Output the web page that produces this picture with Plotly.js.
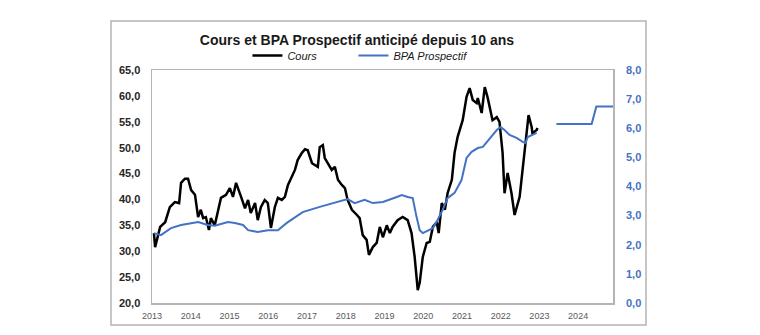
<!DOCTYPE html>
<html>
<head>
<meta charset="utf-8">
<script src="https://cdn.plot.ly/plotly-3.0.1.min.js"></script>
<style>html,body{margin:0;padding:0;background:#fff}#chart{width:760px;height:335px}</style>
</head>
<body>
<div id="chart"></div>
<script>
// Cours (left axis)
const coursX = [2013.05,2013.08,2013.21,2013.34,2013.46,2013.59,2013.70,2013.75,2013.85,2013.93,
2014.01,2014.11,2014.19,2014.26,2014.32,2014.39,2014.47,2014.52,2014.62,2014.73,2014.78,2014.91,
2015.01,2015.09,2015.17,2015.30,2015.40,2015.48,2015.55,2015.66,2015.73,2015.81,2015.91,2015.99,
2016.07,2016.17,2016.25,2016.35,2016.43,2016.51,2016.61,2016.69,2016.76,2016.87,2016.95,
2017.02,2017.13,2017.20,2017.28,2017.33,2017.41,2017.46,2017.54,2017.64,2017.72,2017.80,2017.90,2017.98,
2018.05,2018.16,2018.29,2018.36,2018.44,2018.54,2018.60,2018.70,2018.80,2018.88,2018.96,
2019.06,2019.14,2019.21,2019.34,2019.47,2019.60,2019.70,2019.78,2019.86,2019.91,2019.99,
2020.09,2020.17,2020.25,2020.35,2020.40,2020.48,2020.56,2020.63,2020.74,2020.81,2020.89,
2021.02,2021.12,2021.20,2021.28,2021.38,2021.41,2021.51,2021.59,2021.66,2021.79,2021.90,2021.97,
2022.05,2022.10,2022.18,2022.28,2022.36,2022.49,2022.57,2022.67,2022.72,2022.80,2022.82,2022.93,2022.95];
const coursY = [33.5,30.8,34.7,35.6,38.5,39.5,39.3,43.2,44.0,44.0,
41.8,40.9,36.6,38.0,36.4,36.6,34.1,36.4,35.0,38.5,40.3,40.9,
42.2,40.5,43.2,40.5,38.3,39.9,37.4,39.3,36.0,38.5,39.9,39.3,
34.5,38.5,40.3,39.9,40.5,42.8,44.3,45.7,47.6,49.0,49.7,
49.5,47.0,46.7,46.3,50.1,50.5,48.0,47.0,45.7,46.3,43.8,42.8,42.2,
39.9,38.0,37.0,36.4,33.1,32.2,29.3,30.8,31.6,34.7,32.7,
35.0,33.5,34.7,36.0,36.6,36.0,33.5,28.9,22.5,23.9,28.9,
31.6,31.8,34.7,35.6,33.5,39.3,38.0,41.2,43.8,49.0,52.1,
55.3,59.8,61.5,59.2,58.6,59.6,56.7,61.7,59.8,55.3,55.9,55.0,
49.0,41.2,45.1,41.2,37.0,40.5,45.7,52.1,56.3,54.0,52.8,53.4,53.8];

// BPA Prospectif (right axis), history
const bpaX = [2013.05,2013.23,2013.49,2013.75,2014.19,2014.44,2014.62,2014.96,2015.14,2015.35,2015.48,
2015.73,2015.99,2016.25,2016.48,2016.89,2017.33,2017.77,2018.05,2018.23,2018.49,2018.70,2018.96,
2019.32,2019.45,2019.60,2019.73,2019.83,2019.91,2019.99,2020.12,2020.25,2020.37,2020.50,2020.63,
2020.81,2020.99,2021.12,2021.25,2021.41,2021.54,2021.72,2021.90,2022.00,2022.10,2022.23,2022.41,
2022.57,2022.64,2022.70,2022.82,2022.93];
const bpaY = [2.40,2.33,2.57,2.68,2.78,2.68,2.65,2.78,2.75,2.68,2.50,
2.44,2.50,2.50,2.75,3.12,3.30,3.47,3.57,3.43,3.54,3.43,3.47,
3.64,3.71,3.64,3.60,2.95,2.50,2.40,2.50,2.57,2.85,3.19,3.60,
3.78,4.22,4.98,5.19,5.32,5.36,5.67,5.94,6.04,5.94,5.77,5.67,
5.53,5.49,5.70,5.77,5.84];

// BPA Prospectif, forecast
const bpaFcX = [2023.44,2024.35,2024.47,2024.90];
const bpaFcY = [6.15,6.15,6.75,6.75];

const years = [2013,2014,2015,2016,2017,2018,2019,2020,2021,2022,2023,2024];
const yearLabels = years.map(String);

const BLUE = '#4472C4';
const FONT = 'Liberation Sans, Arial, sans-serif';

const traces = [
  {x: coursX, y: coursY, type: 'scatter', mode: 'lines', name: 'Cours', legend: 'legend',
   line: {color: '#000000', width: 2.5}, yaxis: 'y'},
  {x: bpaX, y: bpaY, type: 'scatter', mode: 'lines', name: 'BPA Prospectif', legend: 'legend2',
   legendgroup: 'bpa', line: {color: BLUE, width: 2}, yaxis: 'y2'},
  {x: bpaFcX, y: bpaFcY, type: 'scatter', mode: 'lines', name: 'BPA Prospectif', legend: 'legend2',
   legendgroup: 'bpa', showlegend: false, line: {color: BLUE, width: 2}, yaxis: 'y2'}
];

const legendFont = {family: FONT, size: 11, color: '#1a1a1a', style: 'italic'};

const layout = {
  width: 760, height: 335,
  margin: {l: 152, r: 147, t: 70, b: 32},
  paper_bgcolor: '#ffffff', plot_bgcolor: '#ffffff',
  separators: ', ',
  font: {family: FONT},
  title: {text: 'Cours et BPA Prospectif anticipé depuis 10 ans',
          font: {family: FONT, size: 14, color: '#1a1a1a', weight: 'bold'},
          x: 357/760, xanchor: 'center', y: 1 - 40/335, yanchor: 'middle'},
  showlegend: true,
  legend: {orientation: 'h', x: 0.207, xanchor: 'left', y: 1.062, yanchor: 'middle',
           font: legendFont, itemwidth: 30, bgcolor: 'rgba(0,0,0,0)', borderwidth: 0},
  legend2: {orientation: 'h', x: 0.437, xanchor: 'left', y: 1.062, yanchor: 'middle',
           font: legendFont, itemwidth: 30, bgcolor: 'rgba(0,0,0,0)', borderwidth: 0},
  xaxis: {range: [2013, 2024.9], tickvals: years, ticktext: yearLabels,
          showgrid: false, zeroline: false, showline: true, mirror: true,
          linecolor: '#b4b4b4', linewidth: 1.5, ticks: '',
          tickfont: {family: FONT, size: 9, color: '#595959'}, ticklabelstandoff: 4},
  yaxis: {range: [20, 65], dtick: 5, tick0: 20, tickformat: '.1f',
          showgrid: false, zeroline: false, showline: true, mirror: true,
          linecolor: '#b4b4b4', linewidth: 1.5, ticks: '',
          tickfont: {family: FONT, size: 11, color: '#262626', weight: 'bold'},
          ticklabelstandoff: 8},
  yaxis2: {range: [0, 8], dtick: 1, tick0: 0, tickformat: '.1f', overlaying: 'y', side: 'right',
           showgrid: false, zeroline: false, showline: false, ticks: '',
           tickfont: {family: FONT, size: 11, color: BLUE, weight: 'bold'},
           ticklabelstandoff: 12},
  shapes: [
    {type: 'rect', xref: 'paper', yref: 'paper',
     x0: (111-152)/461, x1: (646-152)/461, y0: (303-325)/233, y1: (303-21)/233,
     line: {color: '#b4b4b4', width: 1.5}, fillcolor: 'rgba(0,0,0,0)', layer: 'below'}
  ]
};

Plotly.newPlot('chart', traces, layout, {displayModeBar: false, staticPlot: true});
</script>
</body>
</html>
